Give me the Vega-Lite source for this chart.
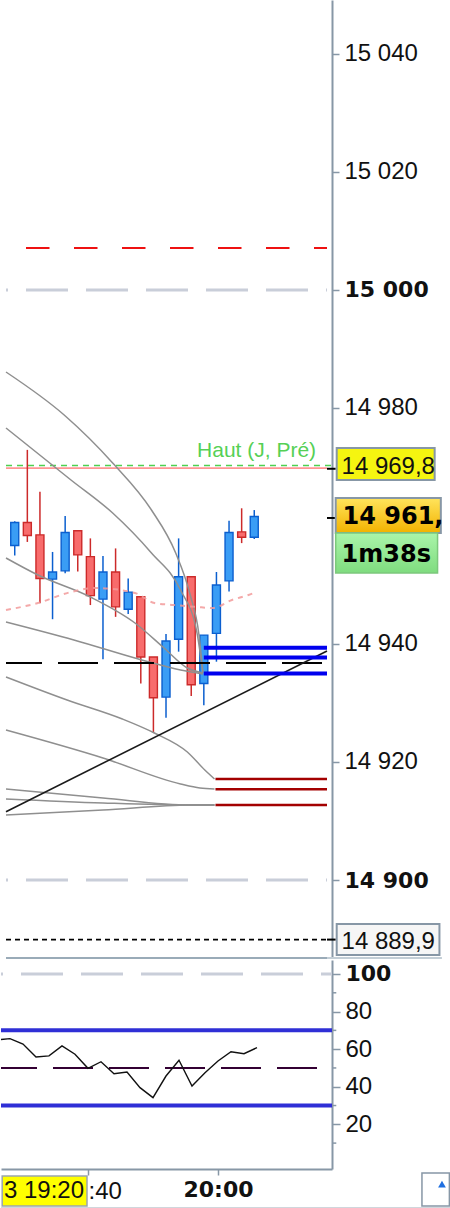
{
"$schema":"https://vega.github.io/schema/vega-lite/v6.json",
"padding":0,
"background":"white",
"spacing":1,
"config":{"view":{"stroke":null},"axis":{"grid":false},"text":{"font":"Liberation Sans"}},
"datasets":{
"candles":[
{"m":28,"o":14956.7,"h":14960.8,"l":14955.0,"c":14960.6,"dir":"up"},
{"m":30,"o":14960.6,"h":14972.9,"l":14957.3,"c":14958.4,"dir":"down"},
{"m":32,"o":14958.5,"h":14965.8,"l":14946.9,"c":14951.1,"dir":"down"},
{"m":34,"o":14951.0,"h":14955.6,"l":14944.2,"c":14952.2,"dir":"up"},
{"m":36,"o":14952.4,"h":14961.7,"l":14952.0,"c":14958.9,"dir":"up"},
{"m":38,"o":14959.2,"h":14959.2,"l":14952.3,"c":14955.1,"dir":"down"},
{"m":40,"o":14954.8,"h":14957.9,"l":14946.6,"c":14948.2,"dir":"down"},
{"m":42,"o":14947.6,"h":14954.9,"l":14937.4,"c":14952.2,"dir":"up"},
{"m":44,"o":14952.2,"h":14956.2,"l":14944.6,"c":14946.3,"dir":"down"},
{"m":46,"o":14945.9,"h":14951.1,"l":14945.1,"c":14948.8,"dir":"up"},
{"m":48,"o":14948.0,"h":14948.0,"l":14933.3,"c":14937.8,"dir":"down"},
{"m":50,"o":14937.8,"h":14937.8,"l":14924.9,"c":14930.9,"dir":"down"},
{"m":52,"o":14931.0,"h":14941.7,"l":14927.5,"c":14940.5,"dir":"up"},
{"m":54,"o":14940.8,"h":14957.9,"l":14938.7,"c":14951.4,"dir":"up"},
{"m":56,"o":14951.4,"h":14951.4,"l":14931.2,"c":14933.1,"dir":"down"},
{"m":58,"o":14933.3,"h":14941.5,"l":14929.6,"c":14941.5,"dir":"up"},
{"m":60,"o":14941.8,"h":14952.2,"l":14937.0,"c":14950.0,"dir":"up"},
{"m":62,"o":14950.7,"h":14960.9,"l":14948.9,"c":14958.9,"dir":"up"},
{"m":64,"o":14959.0,"h":14963.0,"l":14957.1,"c":14958.1,"dir":"down"},
{"m":66,"o":14958.1,"h":14962.7,"l":14957.8,"c":14961.6,"dir":"up"}
],
"curves":[
{"id":"c1","m":26.615,"p":14986.10},{"id":"c1","m":35.846,"p":14978.81},{"id":"c1","m":43.538,"p":14970.68},{"id":"c1","m":49.692,"p":14962.71},{"id":"c1","m":53.538,"p":14955.42},{"id":"c1","m":55.846,"p":14948.31},{"id":"c1","m":57.231,"p":14941.53},{"id":"c1","m":57.846,"p":14935.25},
{"id":"c2","m":26.615,"p":14976.61},{"id":"c2","m":36.923,"p":14967.80},{"id":"c2","m":43.538,"p":14962.20},{"id":"c2","m":49.692,"p":14955.42},{"id":"c2","m":54.308,"p":14949.15},{"id":"c2","m":56.923,"p":14941.86},{"id":"c2","m":57.846,"p":14935.08},
{"id":"c3","m":26.615,"p":14954.58},{"id":"c3","m":31.692,"p":14951.69},{"id":"c3","m":40.0,"p":14947.97},{"id":"c3","m":47.077,"p":14943.56},{"id":"c3","m":51.692,"p":14939.32},{"id":"c3","m":55.385,"p":14935.93},{"id":"c3","m":57.846,"p":14935.08},
{"id":"c4","m":26.615,"p":14943.73},{"id":"c4","m":37.385,"p":14940.68},{"id":"c4","m":48.154,"p":14937.29},{"id":"c4","m":54.308,"p":14935.59},{"id":"c4","m":57.846,"p":14934.92},
{"id":"c5","m":26.615,"p":14934.41},{"id":"c5","m":36.308,"p":14930.51},{"id":"c5","m":45.077,"p":14927.29},{"id":"c5","m":50.154,"p":14924.92},{"id":"c5","m":55.385,"p":14921.69},{"id":"c5","m":58.154,"p":14918.64},{"id":"c5","m":59.692,"p":14917.12},
{"id":"c6","m":26.615,"p":14925.42},{"id":"c6","m":42.0,"p":14920.68},{"id":"c6","m":54.308,"p":14916.27},{"id":"c6","m":57.385,"p":14915.59},{"id":"c6","m":59.692,"p":14915.42},
{"id":"c7","m":26.615,"p":14915.42},{"id":"c7","m":42.0,"p":14913.90},{"id":"c7","m":55.846,"p":14912.71},{"id":"c7","m":59.692,"p":14912.71},
{"id":"c8","m":26.615,"p":14913.73},{"id":"c8","m":42.0,"p":14913.05},{"id":"c8","m":55.846,"p":14912.71},{"id":"c8","m":59.692,"p":14912.71},
{"id":"c9","m":26.615,"p":14911.02},{"id":"c9","m":42.0,"p":14911.86},{"id":"c9","m":55.846,"p":14912.71},{"id":"c9","m":59.692,"p":14912.71}
],
"ma":[
{"m":26.615,"p":14945.76},{"m":31.692,"p":14946.95},{"m":36.923,"p":14948.81},{"m":40.923,"p":14949.49},{"m":47.077,"p":14948.64},{"m":50.154,"p":14946.95},{"m":53.231,"p":14946.61},{"m":56.923,"p":14946.27},{"m":59.385,"p":14946.10},{"m":62.462,"p":14947.46},{"m":65.077,"p":14948.31},{"m":66.308,"p":14948.81}
],
"trend":[{"m":26.615,"p":14911.58},{"m":77.54,"p":14938.81}],
"levels":[
{"name":"grid","p":15000,"m1":26.615,"m2":77.54},
{"name":"grid","p":14900,"m1":26.615,"m2":77.54},
{"name":"resist","p":15007.12,"m1":26.615,"m2":77.54},
{"name":"prevclose","p":14969.8,"m1":26.615,"m2":77.54},
{"name":"high","p":14970.25,"m1":26.615,"m2":78.92},
{"name":"pivot","p":14936.8,"m1":26.615,"m2":77.54},
{"name":"low","p":14889.9,"m1":26.615,"m2":77.54},
{"name":"blue","p":14939.37,"m1":58.0,"m2":77.54},
{"name":"blue","p":14937.7,"m1":58.0,"m2":77.54},
{"name":"blue","p":14935.0,"m1":58.0,"m2":77.54},
{"name":"darkred","p":14917.1,"m1":59.846,"m2":77.54},
{"name":"darkred","p":14915.4,"m1":59.846,"m2":77.54},
{"name":"darkred","p":14912.7,"m1":59.846,"m2":77.54},
{"name":"tick","p":14969.7,"m1":77.54,"m2":78.92},
{"name":"tick","p":14961.36,"m1":77.54,"m2":78.92},
{"name":"tick","p":14889.9,"m1":77.54,"m2":78.92},
{"name":"sep","p":14886.78,"m1":26.615,"m2":77.54},
{"name":"sep2","p":14886.78,"m1":77.54,"m2":95.77}
],
"boxes":[
{"name":"box1","m1":79.08,"m2":94.62,"p1":14973.22,"p2":14967.80},
{"name":"price","m1":78.92,"m2":95.6,"p1":14964.75,"p2":14958.81},
{"name":"timer","m1":78.92,"m2":95.08,"p1":14958.81,"p2":14952.03},
{"name":"box2","m1":79.08,"m2":95.38,"p1":14892.54,"p2":14887.29}
],
"texts":[
{"name":"haut","text":"Haut (J, Pré)","m":56.923,"p":14971.75},
{"name":"box1","text":"14 969,8","m":79.846,"p":14969.92},
{"name":"price","text":"14 961,","m":80.0,"p":14961.44},
{"name":"timer","text":"1m38s","m":79.846,"p":14955.0},
{"name":"box2","text":"14 889,9","m":79.846,"p":14889.41}
],
"osc":[
{"m":26,"v":64.9},{"m":28,"v":65.6},{"m":30,"v":62.7},{"m":32,"v":55.8},{"m":34,"v":56.4},{"m":36,"v":61.7},{"m":38,"v":57.3},{"m":40,"v":49.8},{"m":42,"v":53.3},{"m":44,"v":46.9},{"m":46,"v":47.8},{"m":48,"v":39.5},{"m":50,"v":34.2},{"m":52,"v":45.7},{"m":54,"v":54.1},{"m":56,"v":40.4},{"m":58,"v":47.5},{"m":60,"v":53.7},{"m":62,"v":58.6},{"m":64,"v":57.6},{"m":66,"v":60.8}
],
"oscLevels":[
{"name":"grid","v":100,"m1":26.615,"m2":77.54},
{"name":"band","v":70,"m1":26.615,"m2":77.54},
{"name":"band","v":30,"m1":26.615,"m2":77.54},
{"name":"mid","v":50,"m1":26.615,"m2":77.54},
{"name":"bottom","v":-24.27,"m1":26.615,"m2":95.77},
{"name":"minor","v":10,"m1":77.54,"m2":78.2},
{"name":"minor","v":30,"m1":77.54,"m2":78.2},
{"name":"minor","v":50,"m1":77.54,"m2":78.2},
{"name":"minor","v":70,"m1":77.54,"m2":78.2},
{"name":"minor","v":90,"m1":77.54,"m2":78.2}
],
"lowerBoxes":[
{"name":"date","m1":26.8,"m2":39.846,"v1":-7.5,"v2":-23.5},
{"name":"icon","m1":91.38,"m2":95.6,"v1":-5.9,"v2":-23.5}
],
"lowerTexts":[{"name":"date","text":"3 19:20","m":39.385,"v":-15.5}],
"iconMark":[{"m":94.46,"v":-11.8}]
},
"vconcat":[
{"width":331,"height":958,
"layer":[
{"data":{"name":"levels"},"transform":[{"filter":"datum.name=='grid'"}],
 "mark":{"type":"rule","color":"#c9ced9","strokeWidth":3,"strokeDash":[42,18],"strokeDashOffset":40,"clip":true},
 "encoding":{"x":{"field":"m1","type":"quantitative","scale":{"domain":[26.615,77.54],"nice":false,"zero":false},"axis":null},"x2":{"field":"m2"},
  "y":{"field":"p","type":"quantitative","scale":{"domain":[14886.78,15049.15],"nice":false,"zero":false},"title":null,
   "axis":{"orient":"right","values":[14900,14920,14940,14980,15000,15020,15040],
    "labelExpr":"replace(format(datum.value, ','), ',', ' ')",
    "domainColor":"#8797a6","domainWidth":2,"tickColor":"#8797a6","tickSize":7,"tickWidth":1.5,
    "labelPadding":5,"labelColor":"#111111","labelOverlap":false,"labelFlush":false,"labelBound":false,
    "labelFont":{"condition":{"test":"datum.value==15000||datum.value==14900","value":"DejaVu Sans"},"value":"Liberation Sans"},
    "labelFontSize":{"condition":{"test":"datum.value==15000||datum.value==14900","value":22},"value":24},
    "labelFontWeight":{"condition":{"test":"datum.value==15000||datum.value==14900","value":"bold"},"value":"normal"},
    "grid":false,"title":null}}}},
{"data":{"name":"levels"},"transform":[{"filter":"datum.name=='resist'"}],
 "mark":{"type":"rule","color":"#ee1111","strokeWidth":2,"strokeDash":[23.5,24.5],"strokeDashOffset":28,"clip":true},
 "encoding":{"x":{"field":"m1","type":"quantitative","scale":{"domain":[26.615,77.54],"nice":false,"zero":false},"axis":null},"x2":{"field":"m2"},
  "y":{"field":"p","type":"quantitative","scale":{"domain":[14886.78,15049.15],"nice":false,"zero":false},"title":null}}},
{"data":{"name":"levels"},"transform":[{"filter":"datum.name=='prevclose'"}],
 "mark":{"type":"rule","color":"#ff9494","strokeWidth":1.6,"clip":true},
 "encoding":{"x":{"field":"m1","type":"quantitative","scale":{"domain":[26.615,77.54],"nice":false,"zero":false},"axis":null},"x2":{"field":"m2"},
  "y":{"field":"p","type":"quantitative","scale":{"domain":[14886.78,15049.15],"nice":false,"zero":false},"title":null}}},
{"data":{"name":"levels"},"transform":[{"filter":"datum.name=='high'"}],
 "mark":{"type":"rule","color":"#4fd04f","strokeWidth":1.6,"strokeDash":[6,5]},
 "encoding":{"x":{"field":"m1","type":"quantitative","scale":{"domain":[26.615,77.54],"nice":false,"zero":false},"axis":null},"x2":{"field":"m2"},
  "y":{"field":"p","type":"quantitative","scale":{"domain":[14886.78,15049.15],"nice":false,"zero":false},"title":null}}},
{"data":{"name":"candles"},
 "mark":{"type":"rule","strokeWidth":1.5,"clip":true},
 "encoding":{"x":{"field":"m","type":"quantitative","scale":{"domain":[26.615,77.54],"nice":false,"zero":false},"axis":null},
  "y":{"field":"l","type":"quantitative","scale":{"domain":[14886.78,15049.15],"nice":false,"zero":false},"title":null},"y2":{"field":"h"},
  "color":{"field":"dir","type":"nominal","scale":{"domain":["up","down"],"range":["#0b5fcf","#cc2a2a"]},"legend":null}}},
{"data":{"name":"candles"},
 "mark":{"type":"bar","width":8,"strokeWidth":1.4,"clip":true},
 "encoding":{"x":{"field":"m","type":"quantitative","scale":{"domain":[26.615,77.54],"nice":false,"zero":false},"axis":null},
  "y":{"field":"o","type":"quantitative","scale":{"domain":[14886.78,15049.15],"nice":false,"zero":false},"title":null},"y2":{"field":"c"},
  "fill":{"field":"dir","type":"nominal","scale":{"domain":["up","down"],"range":["#3a9df5","#f86c6c"]},"legend":null},
  "stroke":{"field":"dir","type":"nominal","scale":{"domain":["up","down"],"range":["#0b5fcf","#cc2a2a"]},"legend":null}}},
{"data":{"name":"curves"},
 "mark":{"type":"line","color":"#8f8f8f","strokeWidth":1.5,"interpolate":"monotone","clip":true},
 "encoding":{"x":{"field":"m","type":"quantitative","scale":{"domain":[26.615,77.54],"nice":false,"zero":false},"axis":null},
  "y":{"field":"p","type":"quantitative","scale":{"domain":[14886.78,15049.15],"nice":false,"zero":false},"title":null},
  "detail":{"field":"id","type":"nominal"}}},
{"data":{"name":"ma"},
 "mark":{"type":"line","color":"#f29a9a","strokeWidth":2,"strokeDash":[5,5],"opacity":0.85,"interpolate":"monotone","clip":true},
 "encoding":{"x":{"field":"m","type":"quantitative","scale":{"domain":[26.615,77.54],"nice":false,"zero":false},"axis":null},
  "y":{"field":"p","type":"quantitative","scale":{"domain":[14886.78,15049.15],"nice":false,"zero":false},"title":null}}},
{"data":{"name":"levels"},"transform":[{"filter":"datum.name=='pivot'"}],
 "mark":{"type":"rule","color":"#000000","strokeWidth":2,"strokeDash":[40,16],"strokeDashOffset":4,"clip":true},
 "encoding":{"x":{"field":"m1","type":"quantitative","scale":{"domain":[26.615,77.54],"nice":false,"zero":false},"axis":null},"x2":{"field":"m2"},
  "y":{"field":"p","type":"quantitative","scale":{"domain":[14886.78,15049.15],"nice":false,"zero":false},"title":null}}},
{"data":{"name":"trend"},
 "mark":{"type":"line","color":"#1a1a1a","strokeWidth":1.6,"clip":true},
 "encoding":{"x":{"field":"m","type":"quantitative","scale":{"domain":[26.615,77.54],"nice":false,"zero":false},"axis":null},
  "y":{"field":"p","type":"quantitative","scale":{"domain":[14886.78,15049.15],"nice":false,"zero":false},"title":null}}},
{"data":{"name":"levels"},"transform":[{"filter":"datum.name=='blue'"}],
 "mark":{"type":"rule","color":"#0000ee","strokeWidth":4,"clip":true},
 "encoding":{"x":{"field":"m1","type":"quantitative","scale":{"domain":[26.615,77.54],"nice":false,"zero":false},"axis":null},"x2":{"field":"m2"},
  "y":{"field":"p","type":"quantitative","scale":{"domain":[14886.78,15049.15],"nice":false,"zero":false},"title":null}}},
{"data":{"name":"levels"},"transform":[{"filter":"datum.name=='darkred'"}],
 "mark":{"type":"rule","color":"#a30000","strokeWidth":2.5,"clip":true},
 "encoding":{"x":{"field":"m1","type":"quantitative","scale":{"domain":[26.615,77.54],"nice":false,"zero":false},"axis":null},"x2":{"field":"m2"},
  "y":{"field":"p","type":"quantitative","scale":{"domain":[14886.78,15049.15],"nice":false,"zero":false},"title":null}}},
{"data":{"name":"levels"},"transform":[{"filter":"datum.name=='low'"}],
 "mark":{"type":"rule","color":"#000000","strokeWidth":1.6,"strokeDash":[5,4],"clip":true},
 "encoding":{"x":{"field":"m1","type":"quantitative","scale":{"domain":[26.615,77.54],"nice":false,"zero":false},"axis":null},"x2":{"field":"m2"},
  "y":{"field":"p","type":"quantitative","scale":{"domain":[14886.78,15049.15],"nice":false,"zero":false},"title":null}}},
{"data":{"name":"levels"},"transform":[{"filter":"datum.name=='tick'"}],
 "mark":{"type":"rule","color":"#000000","strokeWidth":2},
 "encoding":{"x":{"field":"m1","type":"quantitative","scale":{"domain":[26.615,77.54],"nice":false,"zero":false},"axis":null},"x2":{"field":"m2"},
  "y":{"field":"p","type":"quantitative","scale":{"domain":[14886.78,15049.15],"nice":false,"zero":false},"title":null}}},
{"data":{"name":"boxes"},"transform":[{"filter":"datum.name=='box1'"}],
 "mark":{"type":"rect","color":"#f5f510","stroke":"#8797a6","strokeWidth":2},
 "encoding":{"x":{"field":"m1","type":"quantitative","scale":{"domain":[26.615,77.54],"nice":false,"zero":false},"axis":null},"x2":{"field":"m2"},
  "y":{"field":"p1","type":"quantitative","scale":{"domain":[14886.78,15049.15],"nice":false,"zero":false},"title":null},"y2":{"field":"p2"}}},
{"data":{"name":"boxes"},"transform":[{"filter":"datum.name=='price'"}],
 "mark":{"type":"rect","fill":{"gradient":"linear","x1":0,"y1":0,"x2":0,"y2":1,"stops":[{"offset":0,"color":"#ffe45c"},{"offset":1,"color":"#f2b200"}]},"stroke":"#8797a6","strokeWidth":2},
 "encoding":{"x":{"field":"m1","type":"quantitative","scale":{"domain":[26.615,77.54],"nice":false,"zero":false},"axis":null},"x2":{"field":"m2"},
  "y":{"field":"p1","type":"quantitative","scale":{"domain":[14886.78,15049.15],"nice":false,"zero":false},"title":null},"y2":{"field":"p2"}}},
{"data":{"name":"boxes"},"transform":[{"filter":"datum.name=='timer'"}],
 "mark":{"type":"rect","fill":{"gradient":"linear","x1":0,"y1":0,"x2":0,"y2":1,"stops":[{"offset":0,"color":"#aaf5aa"},{"offset":1,"color":"#7fdc7f"}]},"stroke":"#7cc87c","strokeWidth":1.5},
 "encoding":{"x":{"field":"m1","type":"quantitative","scale":{"domain":[26.615,77.54],"nice":false,"zero":false},"axis":null},"x2":{"field":"m2"},
  "y":{"field":"p1","type":"quantitative","scale":{"domain":[14886.78,15049.15],"nice":false,"zero":false},"title":null},"y2":{"field":"p2"}}},
{"data":{"name":"boxes"},"transform":[{"filter":"datum.name=='box2'"}],
 "mark":{"type":"rect","color":"#f6f6f6","stroke":"#8797a6","strokeWidth":2},
 "encoding":{"x":{"field":"m1","type":"quantitative","scale":{"domain":[26.615,77.54],"nice":false,"zero":false},"axis":null},"x2":{"field":"m2"},
  "y":{"field":"p1","type":"quantitative","scale":{"domain":[14886.78,15049.15],"nice":false,"zero":false},"title":null},"y2":{"field":"p2"}}},
{"data":{"name":"texts"},"transform":[{"filter":"datum.name=='haut'"}],
 "mark":{"type":"text","align":"left","baseline":"alphabetic","font":"Liberation Sans","fontSize":21,"color":"#55d055"},
 "encoding":{"x":{"field":"m","type":"quantitative","scale":{"domain":[26.615,77.54],"nice":false,"zero":false},"axis":null},
  "y":{"field":"p","type":"quantitative","scale":{"domain":[14886.78,15049.15],"nice":false,"zero":false},"title":null},"text":{"field":"text"}}},
{"data":{"name":"texts"},"transform":[{"filter":"datum.name=='box1'||datum.name=='box2'"}],
 "mark":{"type":"text","align":"left","baseline":"middle","font":"Liberation Sans","fontSize":24,"color":"#111111"},
 "encoding":{"x":{"field":"m","type":"quantitative","scale":{"domain":[26.615,77.54],"nice":false,"zero":false},"axis":null},
  "y":{"field":"p","type":"quantitative","scale":{"domain":[14886.78,15049.15],"nice":false,"zero":false},"title":null},"text":{"field":"text"}}},
{"data":{"name":"texts"},"transform":[{"filter":"datum.name=='price'||datum.name=='timer'"}],
 "mark":{"type":"text","align":"left","baseline":"middle","font":"DejaVu Sans","fontWeight":"bold","fontSize":24,"color":"#000000"},
 "encoding":{"x":{"field":"m","type":"quantitative","scale":{"domain":[26.615,77.54],"nice":false,"zero":false},"axis":null},
  "y":{"field":"p","type":"quantitative","scale":{"domain":[14886.78,15049.15],"nice":false,"zero":false},"title":null},"text":{"field":"text"}}},
{"data":{"name":"levels"},"transform":[{"filter":"datum.name=='sep'"}],
 "mark":{"type":"rule","color":"#9aabb8","strokeWidth":2},
 "encoding":{"x":{"field":"m1","type":"quantitative","scale":{"domain":[26.615,77.54],"nice":false,"zero":false},"axis":null},"x2":{"field":"m2"},
  "y":{"field":"p","type":"quantitative","scale":{"domain":[14886.78,15049.15],"nice":false,"zero":false},"title":null}}},
{"data":{"name":"levels"},"transform":[{"filter":"datum.name=='sep2'"}],
 "mark":{"type":"rule","color":"#c3ced6","strokeWidth":2},
 "encoding":{"x":{"field":"m1","type":"quantitative","scale":{"domain":[26.615,77.54],"nice":false,"zero":false},"axis":null},"x2":{"field":"m2"},
  "y":{"field":"p","type":"quantitative","scale":{"domain":[14886.78,15049.15],"nice":false,"zero":false},"title":null}}}
]},
{"width":331,"height":209,
"layer":[
{"data":{"name":"oscLevels"},"transform":[{"filter":"datum.name=='grid'"}],
 "mark":{"type":"rule","color":"#c9ced9","strokeWidth":3,"strokeDash":[42,18],"strokeDashOffset":40,"clip":true},
 "encoding":{"x":{"field":"m1","type":"quantitative","scale":{"domain":[26.615,77.54],"nice":false,"zero":false},"title":null,
   "axis":{"orient":"bottom","values":[40,60],"labelExpr":"datum.value==60?'20:00':':40'",
    "domainColor":"#8797a6","domainWidth":2,"tickColor":"#8797a6","tickSize":6,"tickWidth":1.5,"labelPadding":4,
    "labelColor":"#111111","labelFlush":false,"labelOverlap":false,"labelBound":false,
    "labelAlign":{"condition":{"test":"datum.value==60","value":"center"},"value":"left"},
    "labelFont":{"condition":{"test":"datum.value==60","value":"DejaVu Sans"},"value":"Liberation Sans"},
    "labelFontSize":{"condition":{"test":"datum.value==60","value":22},"value":24},
    "labelFontWeight":{"condition":{"test":"datum.value==60","value":"bold"},"value":"normal"},
    "grid":false,"title":null}},"x2":{"field":"m2"},
  "y":{"field":"v","type":"quantitative","scale":{"domain":[-3.78,107.45],"nice":false,"zero":false},"title":null,
   "axis":{"orient":"right","values":[20,40,60,80,100],
    "domainColor":"#8797a6","domainWidth":2,"tickColor":"#8797a6","tickWidth":1.5,"tickSize":8,
    "labelPadding":5,"labelColor":"#111111","labelOverlap":false,"labelFlush":false,"labelBound":false,
    "labelFont":{"condition":{"test":"datum.value==100","value":"DejaVu Sans"},"value":"Liberation Sans"},
    "labelFontSize":{"condition":{"test":"datum.value==100","value":22},"value":24},
    "labelFontWeight":{"condition":{"test":"datum.value==100","value":"bold"},"value":"normal"},
    "grid":false,"title":null}}}},
{"data":{"name":"oscLevels"},"transform":[{"filter":"datum.name=='minor'"}],
 "mark":{"type":"rule","color":"#8797a6","strokeWidth":1.5},
 "encoding":{"x":{"field":"m1","type":"quantitative","scale":{"domain":[26.615,77.54],"nice":false,"zero":false},"title":null},"x2":{"field":"m2"},
  "y":{"field":"v","type":"quantitative","scale":{"domain":[-3.78,107.45],"nice":false,"zero":false},"title":null}}},
{"data":{"name":"oscLevels"},"transform":[{"filter":"datum.name=='band'"}],
 "mark":{"type":"rule","color":"#2f2fd6","strokeWidth":4,"clip":true},
 "encoding":{"x":{"field":"m1","type":"quantitative","scale":{"domain":[26.615,77.54],"nice":false,"zero":false},"title":null},"x2":{"field":"m2"},
  "y":{"field":"v","type":"quantitative","scale":{"domain":[-3.78,107.45],"nice":false,"zero":false},"title":null}}},
{"data":{"name":"oscLevels"},"transform":[{"filter":"datum.name=='mid'"}],
 "mark":{"type":"rule","color":"#330033","strokeWidth":2,"strokeDash":[40,16],"strokeDashOffset":4,"clip":true},
 "encoding":{"x":{"field":"m1","type":"quantitative","scale":{"domain":[26.615,77.54],"nice":false,"zero":false},"title":null},"x2":{"field":"m2"},
  "y":{"field":"v","type":"quantitative","scale":{"domain":[-3.78,107.45],"nice":false,"zero":false},"title":null}}},
{"data":{"name":"osc"},
 "mark":{"type":"line","color":"#111111","strokeWidth":1.4,"clip":true},
 "encoding":{"x":{"field":"m","type":"quantitative","scale":{"domain":[26.615,77.54],"nice":false,"zero":false},"title":null},
  "y":{"field":"v","type":"quantitative","scale":{"domain":[-3.78,107.45],"nice":false,"zero":false},"title":null}}},
{"data":{"name":"lowerBoxes"},"transform":[{"filter":"datum.name=='date'"}],
 "mark":{"type":"rect","color":"#ffff00","stroke":"#9aa5ae","strokeWidth":1.5},
 "encoding":{"x":{"field":"m1","type":"quantitative","scale":{"domain":[26.615,77.54],"nice":false,"zero":false},"title":null},"x2":{"field":"m2"},
  "y":{"field":"v1","type":"quantitative","scale":{"domain":[-3.78,107.45],"nice":false,"zero":false},"title":null},"y2":{"field":"v2"}}},
{"data":{"name":"lowerBoxes"},"transform":[{"filter":"datum.name=='icon'"}],
 "mark":{"type":"rect","color":"#ffffff","stroke":"#8797a6","strokeWidth":1.5},
 "encoding":{"x":{"field":"m1","type":"quantitative","scale":{"domain":[26.615,77.54],"nice":false,"zero":false},"title":null},"x2":{"field":"m2"},
  "y":{"field":"v1","type":"quantitative","scale":{"domain":[-3.78,107.45],"nice":false,"zero":false},"title":null},"y2":{"field":"v2"}}},
{"data":{"name":"iconMark"},
 "mark":{"type":"point","shape":"triangle-up","filled":true,"color":"#1f6fe0","size":60,"opacity":1},
 "encoding":{"x":{"field":"m","type":"quantitative","scale":{"domain":[26.615,77.54],"nice":false,"zero":false},"title":null},
  "y":{"field":"v","type":"quantitative","scale":{"domain":[-3.78,107.45],"nice":false,"zero":false},"title":null}}},
{"data":{"name":"lowerTexts"},
 "mark":{"type":"text","align":"right","baseline":"middle","font":"Liberation Sans","fontSize":24,"color":"#111111"},
 "encoding":{"x":{"field":"m","type":"quantitative","scale":{"domain":[26.615,77.54],"nice":false,"zero":false},"title":null},
  "y":{"field":"v","type":"quantitative","scale":{"domain":[-3.78,107.45],"nice":false,"zero":false},"title":null},"text":{"field":"text"}}},
{"data":{"name":"oscLevels"},"transform":[{"filter":"datum.name=='bottom'"}],
 "mark":{"type":"rule","color":"#d0d6dc","strokeWidth":1},
 "encoding":{"x":{"field":"m1","type":"quantitative","scale":{"domain":[26.615,77.54],"nice":false,"zero":false},"title":null},"x2":{"field":"m2"},
  "y":{"field":"v","type":"quantitative","scale":{"domain":[-3.78,107.45],"nice":false,"zero":false},"title":null}}}
]}
]
}
